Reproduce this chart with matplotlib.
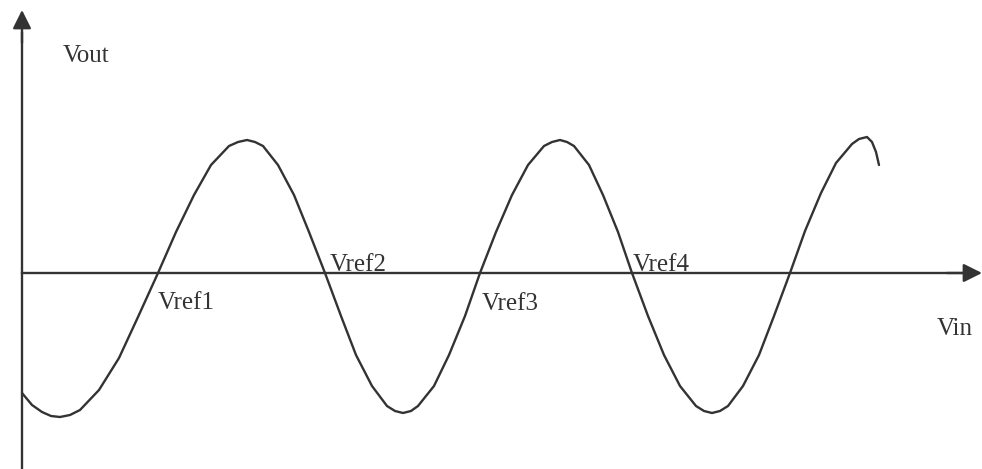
import matplotlib
matplotlib.use("Agg")
import matplotlib.pyplot as plt

# curve (Vin, Vout), origin where the axes cross
vin = [0, 10, 20, 29, 38, 48,
       58, 77, 97, 116, 136,
       154, 172, 189, 207, 216, 225,
       233, 241, 256, 272, 287, 303,
       319, 334, 350, 365, 373, 381,
       389, 396, 412, 427, 443, 458,
       474, 490, 506, 522, 530, 538,
       545, 552, 567, 581, 596, 610,
       626, 642, 658, 674, 682, 690,
       698, 706, 721, 737, 752, 768,
       783, 799, 814, 830, 837, 845,
       850, 854, 857]
vout = [-120, -132, -139, -143, -144, -142,
        -137, -117, -85, -44, 0,
        41, 78, 108, 127, 131, 133,
        131, 127, 108, 78, 41, 0,
        -43, -82, -113, -133, -138, -140,
        -138, -133, -113, -82, -43, 0,
        41, 78, 108, 127, 131, 133,
        131, 127, 108, 78, 41, 0,
        -43, -82, -113, -133, -138, -140,
        -138, -133, -113, -82, -43, 0,
        42, 80, 110, 129, 134, 136,
        131, 121, 108]

ref_labels = ["Vref1", "Vref2", "Vref3", "Vref4"]
label_x = [136, 308, 460, 611]
label_y = [-36, 2, -37, 2]

ink = "#333333"
fig = plt.figure(figsize=(9.82, 4.69), dpi=100)
ax = fig.add_axes([0, 0, 1, 1])
ax.set_xlim(-22, 960)
ax.set_ylim(-196, 273)
ax.axis("off")

# axes with arrow heads
ax.plot([0, 0], [-196, 240], color=ink, lw=1.7)
ax.annotate("", xy=(0, 263), xytext=(0, 230),
            arrowprops=dict(arrowstyle="-|>", mutation_scale=28, lw=1.7,
                            color=ink, shrinkA=0, shrinkB=0))
ax.plot([0, 940], [0, 0], color=ink, lw=1.7)
ax.annotate("", xy=(960, 0), xytext=(925, 0),
            arrowprops=dict(arrowstyle="-|>", mutation_scale=28, lw=1.7,
                            color=ink, shrinkA=0, shrinkB=0))

ax.plot(vin, vout, color=ink, lw=1.7, solid_capstyle="round",
        solid_joinstyle="round")

font = dict(family="Liberation Serif", fontsize=18, color=ink)
ax.text(41, 211, "Vout", va="baseline", ha="left", **font)
ax.text(915, -62, "Vin", va="baseline", ha="left", **font)
for lab, x, y in zip(ref_labels, label_x, label_y):
    ax.text(x, y, lab, va="baseline", ha="left", **font)

fig.savefig("out.png", dpi=100)
